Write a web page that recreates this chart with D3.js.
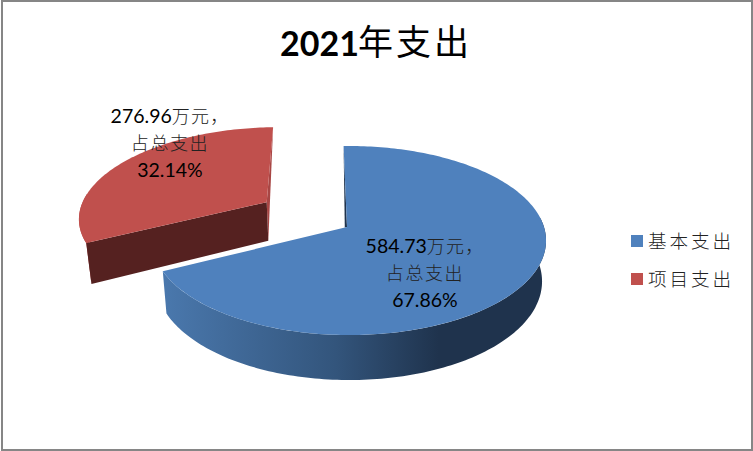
<!DOCTYPE html>
<html><head><meta charset="utf-8">
<style>html,body{margin:0;padding:0;background:#fff}svg{display:block}
text{font-family:Lato,"Noto Sans CJK SC",sans-serif;fill:#000}
.cjk{font-family:"Noto Sans CJK SC",sans-serif;font-weight:300;fill:#222}</style>
<script src="https://cdn.jsdelivr.net/npm/d3@7"></script></head><body>
<script>
const categories=["基本支出","项目支出"];
const values=[584.73,276.96];
const shares=["67.86%","32.14%"];
const colors=["#4f81bd","#c0504d"];
const titleYear="2021";
const titleRest="年支出";

const W=753,H=451;
const svg=d3.select("body").append("svg").attr("width",W).attr("height",H);
svg.append("rect").attr("x",2).attr("y",1).attr("width",750).attr("height",449).attr("fill","#fff").attr("stroke","#868686").attr("stroke-width",2);

const defs=svg.append("defs");
const gb=defs.append("linearGradient").attr("id","blueSide").attr("gradientUnits","userSpaceOnUse").attr("x1",163).attr("x2",546).attr("y1",0).attr("y2",0);
[[0,"#4a78ad"],[.45,"#33557c"],[.72,"#1f334d"],[1,"#1f334d"]].forEach(d=>gb.append("stop").attr("offset",d[0]).attr("stop-color",d[1]));
const gr=defs.append("linearGradient").attr("id","redSide").attr("gradientUnits","userSpaceOnUse").attr("x1",78).attr("x2",90).attr("y1",0).attr("y2",0);
[[0,"#c0504d"],[1,"#a84644"]].forEach(d=>gr.append("stop").attr("offset",d[0]).attr("stop-color",d[1]));

// Tilted disc: plane coordinates (u,v) in radius units, z=0 top / z=1 bottom
const cx=347,cy=227,A=195,B=92.6,C=0.1429,E=0.01;
function proj(u,v,z){
  const den=1-C*v-E*u;
  const x=A*u/den, y=B*v/den;
  return [cx+x*(1-0.02*z), cy+y+z*(40+5*v)];
}
const rot=-0.02;
const pie=d3.pie().sort(null).startAngle(rot).endAngle(2*Math.PI+rot)(values);
const offsets=[[0,0],[-0.43,-0.28]];
const line=d3.line();
function rim(o,z,a0,a1){
  const n=Math.max(1,Math.ceil(Math.abs(a1-a0)/0.02));
  return d3.range(n+1).map(i=>{const a=a0+(a1-a0)*i/n;return proj(o[0]+Math.sin(a),o[1]-Math.cos(a),z);});
}
function face(pts){return line(pts)+"Z";}
const g=svg.append("g");

// red slice (back)
{
  const d=pie[1],o=offsets[1],a0=d.startAngle,a1=d.endAngle,f=colors[1];
  const apexT=proj(o[0],o[1],0),apexB=proj(o[0],o[1],1);
  const e0T=rim(o,0,a0,a0)[0],e0B=rim(o,1,a0,a0)[0];
  const e1T=rim(o,0,a1,a1)[0];
  // outer wall: silhouette from the leftmost rim point to the lower corner
  g.append("path").attr("d",face(rim(o,0,a0,3*Math.PI/2+0.1).concat([e0B]))).attr("fill","url(#redSide)");
  // end wall (thin strip on the right)
  g.append("path").attr("d",face([e1T,apexB,apexT])).attr("fill","#a84644");
  // cut face
  g.append("path").attr("d",face([apexT,e0T,e0B,apexB])).attr("fill","#552120");
  g.append("path").attr("d",face([apexT].concat(rim(o,0,a0,a1)))).attr("fill",f);
}
// blue slice
{
  const d=pie[0],o=offsets[0],a0=d.startAngle,a1=d.endAngle,f=colors[0];
  const apexT=proj(o[0],o[1],0);
  const e0T=rim(o,0,a0,a0)[0],e1T=rim(o,0,a1,a1)[0];
  const nearApex=d3.interpolateArray(apexT,e1T)(0.012);
  g.append("path").attr("d",face(rim(o,0,Math.PI/2-0.1,a1).concat(rim(o,1,a1,Math.PI/2-0.1)))).attr("fill","url(#blueSide)");
  g.append("path").attr("d",face([e0T,apexT,nearApex])).attr("fill","#1f334d");
  g.append("path").attr("d",face([apexT].concat(rim(o,0,a0,a1)))).attr("fill",f);
}

// title
svg.append("text").attr("x",280).attr("y",56).attr("font-size",34).attr("font-weight",700).text(titleYear);
svg.append("text").attr("class","cjk").attr("x",358).attr("y",55).attr("font-size",35).attr("letter-spacing",3).style("fill","#000").style("font-weight",400).text(titleRest);

// data labels
const labelCenters=[425,170], labelTops=[253,123];
const fmt=d3.format(".2f");
values.forEach((v,i)=>{
  const x=labelCenters[i], y=labelTops[i];
  const t=svg.append("text").attr("text-anchor","middle").attr("y",y).attr("x",x).attr("font-size",19.5);
  t.append("tspan").text(fmt(v));
  t.append("tspan").attr("class","cjk").attr("font-size",18).attr("letter-spacing",1.2).text("万元，");
  svg.append("text").attr("class","cjk").attr("text-anchor","middle").attr("x",x).attr("y",y+27).attr("font-size",18).attr("letter-spacing",1.6).text("占总支出");
  svg.append("text").attr("text-anchor","middle").attr("x",x).attr("y",y+54).attr("font-size",19.5).text(shares[i]);
});

// legend
const yLeg=d3.scalePoint().domain(categories).range([241,279]);
categories.forEach((c,i)=>{
  svg.append("rect").attr("x",631).attr("y",yLeg(c)-6).attr("width",12).attr("height",12).attr("fill",colors[i]);
  svg.append("text").attr("class","cjk").attr("x",648).attr("y",yLeg(c)+7).attr("font-size",18.6).attr("textLength",83).text(c);
});
</script></body></html>
